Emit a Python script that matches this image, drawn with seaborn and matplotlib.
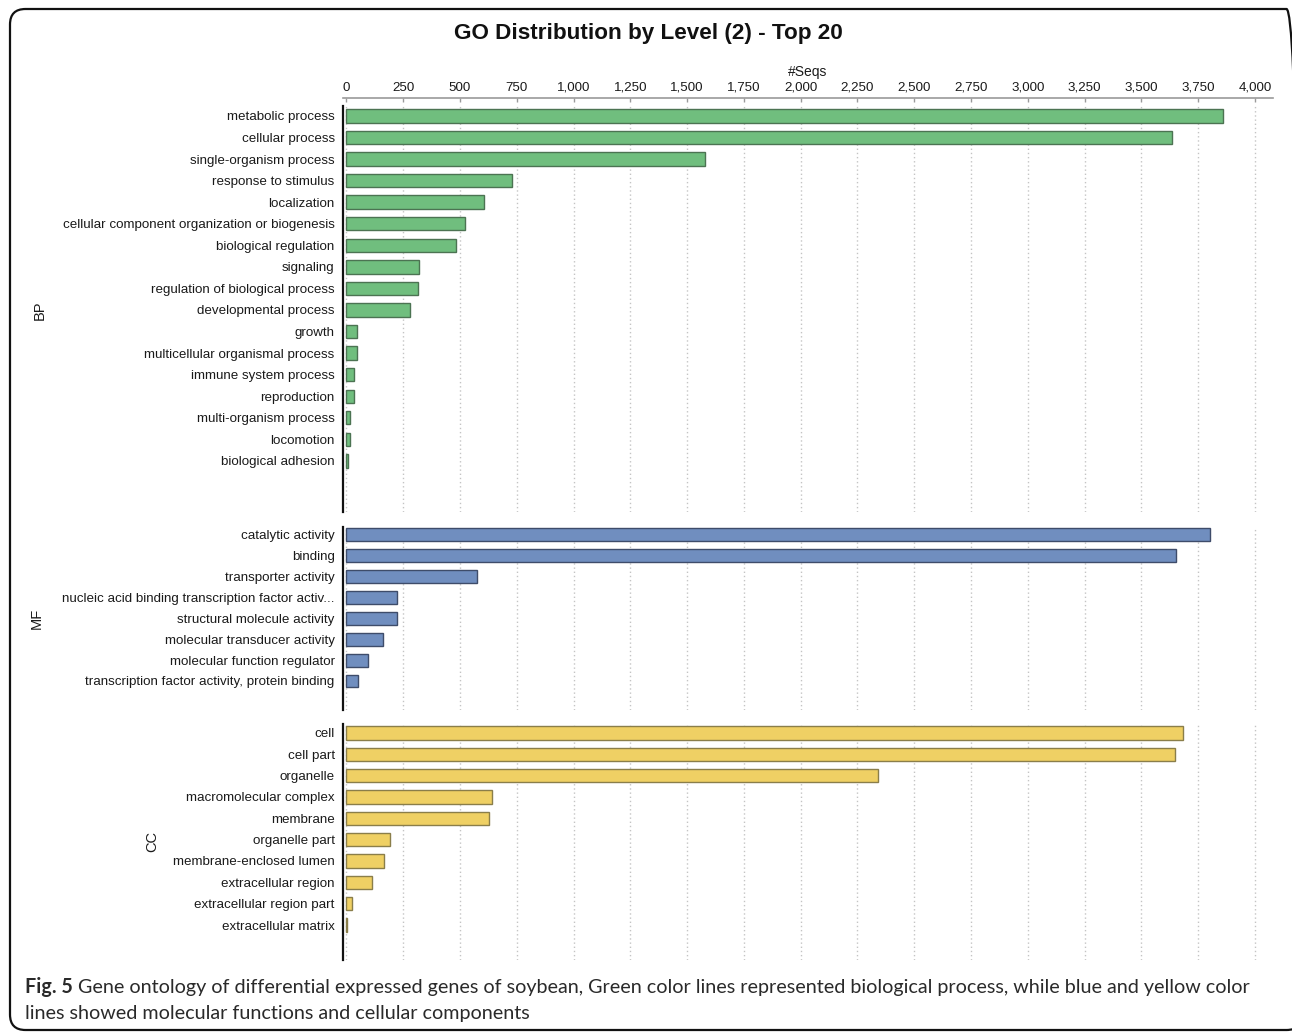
import matplotlib
matplotlib.use("Agg")
import matplotlib.pyplot as plt
import seaborn as sns
import pandas as pd
from matplotlib.patches import FancyBboxPatch

# ---------------- data ----------------
bp_terms = ["metabolic process", "cellular process", "single-organism process",
            "response to stimulus", "localization",
            "cellular component organization or biogenesis", "biological regulation",
            "signaling", "regulation of biological process", "developmental process",
            "growth", "multicellular organismal process", "immune system process",
            "reproduction", "multi-organism process", "locomotion", "biological adhesion"]
bp_counts = [3862, 3634, 1581, 731, 608, 524, 481, 318, 316, 282,
             46, 48, 35, 35, 15, 15, 5]

mf_terms = ["catalytic activity", "binding", "transporter activity",
            "nucleic acid binding transcription factor activ...",
            "structural molecule activity", "molecular transducer activity",
            "molecular function regulator", "transcription factor activity, protein binding"]
mf_counts = [3802, 3652, 577, 222, 222, 162, 96, 51]

cc_terms = ["cell", "cell part", "organelle", "macromolecular complex", "membrane",
            "organelle part", "membrane-enclosed lumen", "extracellular region",
            "extracellular region part", "extracellular matrix"]
cc_counts = [3683, 3648, 2339, 639, 626, 192, 167, 111, 25, 3]

x_ticks = list(range(0, 4001, 250))
x_ticklabels = [f"{v:,}" for v in x_ticks]

title = "GO Distribution by Level (2) - Top 20"
caption_bold = "Fig. 5"
caption_line1 = (" Gene ontology of differential expressed genes of soybean, Green color lines "
                 "represented biological process, while blue and yellow color")
caption_line2 = "lines showed molecular functions and cellular components"

# ---------------- style ----------------
sns.set_theme(style="white")
plt.rcParams["font.family"] = ["Liberation Sans", "DejaVu Sans"]

W, H = 1292, 1033
fig = plt.figure(figsize=(W / 100, H / 100), dpi=100)
fig.patch.set_facecolor("white")

def fx(px):
    return px / W

def fy(py):
    return 1 - py / H

XMIN, XMAX = -15, 4080
ax_left, ax_right = 343, 1273
LABEL_SIZE = 9.6

panels = [
    # terms, counts, colour, edge, top px, bottom px, ylim, label, label x, label y
    (bp_terms, bp_counts, "#70BE7E", "#4C7352", 106, 512, (18.37, -0.46), "BP", 40, 310),
    (mf_terms, mf_counts, "#708EBF", "#3E4C6A", 527, 710, (8.39, -0.38), "MF", 37, 618),
    (cc_terms, cc_counts, "#EFD064", "#8A7E4A", 724, 960, (10.64, -0.42), "CC", 152, 842),
]

for terms, counts, col, edge, top, bot, ylim, lab, lx, ly in panels:
    ax = fig.add_axes([fx(ax_left), fy(bot), fx(ax_right - ax_left), (bot - top) / H])
    df = pd.DataFrame({"term": terms, "count": counts})
    sns.barplot(data=df, x="count", y="term", orient="h", ax=ax, color=col,
                edgecolor=edge, linewidth=1.0, width=0.62, saturation=1)
    ax.set_xlim(XMIN, XMAX)
    ax.set_ylim(*ylim)
    ax.set_xticks(x_ticks)
    ax.tick_params(axis="x", length=0, labelbottom=False)
    ax.tick_params(axis="y", length=3, width=1, color="#222222", direction="out",
                   pad=3, labelsize=LABEL_SIZE, labelcolor="#1a1a1a")
    ax.grid(axis="x", linestyle=(0, (1, 2)), color="#c4c4c4", linewidth=1)
    ax.grid(axis="y", visible=False)
    ax.set_axisbelow(True)
    for s in ["top", "right", "bottom"]:
        ax.spines[s].set_visible(False)
    ax.spines["left"].set_color("#111111")
    ax.spines["left"].set_linewidth(1.6)
    ax.set_xlabel("")
    ax.set_ylabel("")
    ax.set_facecolor("none")
    fig.text(fx(lx), fy(ly), lab, rotation=90, ha="center", va="center",
             fontsize=10.5, color="#1a1a1a")

# top axis with tick labels
ax_top = fig.add_axes([fx(ax_left), fy(98), fx(ax_right - ax_left), 0.0001])
ax_top.set_xlim(XMIN, XMAX)
ax_top.set_yticks([])
ax_top.set_xticks(x_ticks)
ax_top.set_xticklabels(x_ticklabels)
ax_top.xaxis.set_ticks_position("top")
ax_top.xaxis.set_label_position("top")
ax_top.tick_params(axis="x", length=3, width=1, color="#9a9a9a", direction="in",
                   pad=3, labelsize=LABEL_SIZE, labelcolor="#1a1a1a")
for s in ["left", "right", "bottom"]:
    ax_top.spines[s].set_visible(False)
ax_top.spines["top"].set_color("#9a9a9a")
ax_top.spines["top"].set_linewidth(1.2)
ax_top.set_facecolor("none")
ax_top.set_xlabel("#Seqs", fontsize=10, color="#1a1a1a", labelpad=4)

# title
fig.text(fx(648), fy(34), title, ha="center", va="center", fontsize=16.2,
         fontweight="bold", color="#111111")

# outer rounded border (right side runs off the picture)
border = FancyBboxPatch((fx(10), fy(1030)), fx(1302 - 10), (1030 - 9) / H,
                        boxstyle="round,pad=0,rounding_size=0.012",
                        transform=fig.transFigure, fill=False,
                        edgecolor="#111111", linewidth=1.6, mutation_aspect=W / H,
                        clip_on=False)
fig.add_artist(border)

# caption
cap_font = ["Lato", "DejaVu Sans"]
renderer = fig.canvas.get_renderer()
size = 14.0
for _ in range(6):
    t1 = fig.text(fx(25), fy(987), caption_bold, fontsize=size, fontweight="bold",
                  family=cap_font, color="#2a2a2a", ha="left", va="center")
    bb = t1.get_window_extent(renderer)
    t2 = fig.text(bb.x1 / W, fy(987), caption_line1, fontsize=size, family=cap_font,
                  color="#2a2a2a", ha="left", va="center")
    bb2 = t2.get_window_extent(renderer)
    width = bb2.x1 - bb.x0
    if abs(width - 1226) < 2:
        break
    t1.remove()
    t2.remove()
    size = size * 1226 / width
fig.text(fx(25), fy(1013), caption_line2, fontsize=size, family=cap_font,
         color="#2a2a2a", ha="left", va="center")

fig.savefig("out.png", dpi=100)
